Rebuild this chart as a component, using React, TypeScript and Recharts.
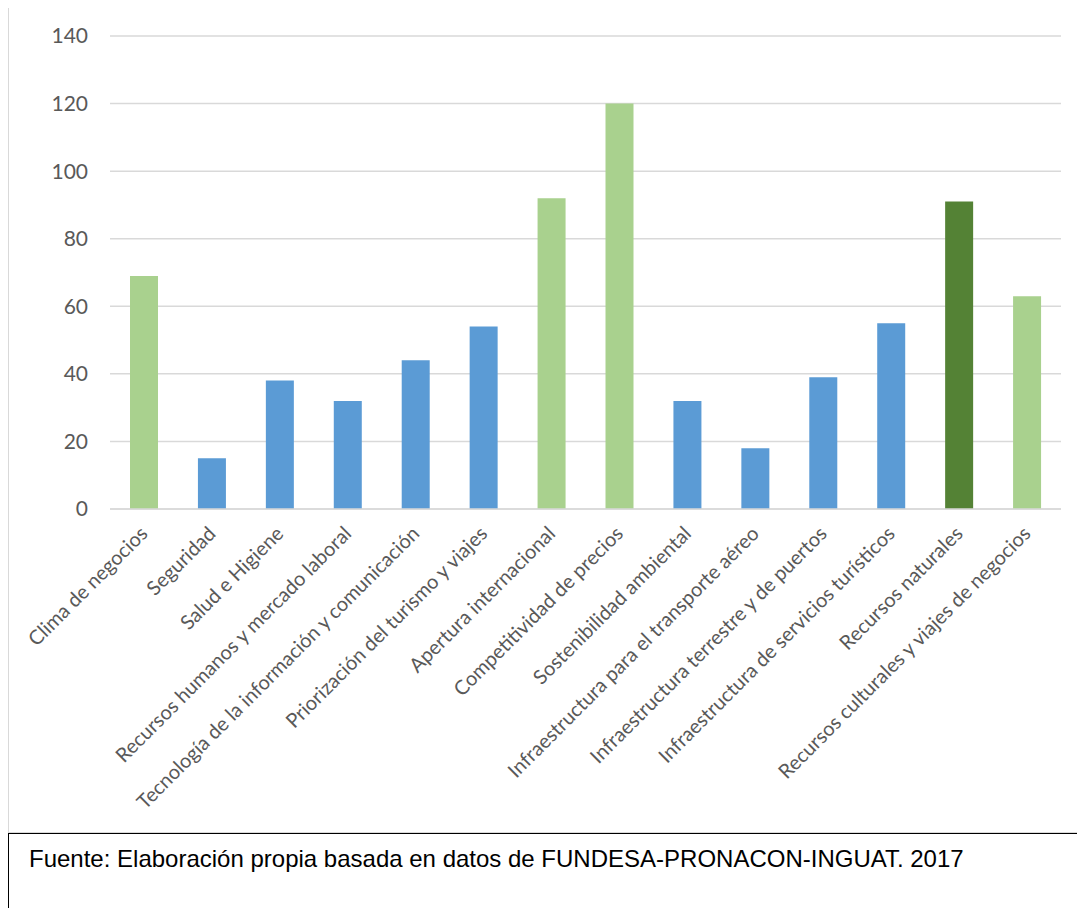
import React from 'react';
import { BarChart, Bar, XAxis, YAxis, CartesianGrid, Cell } from 'recharts';

const categories = [
    'Clima de negocios',
    'Seguridad',
    'Salud e Higiene',
    'Recursos humanos y mercado laboral',
    'Tecnología de la información y comunicación',
    'Priorización del turismo y viajes',
    'Apertura internacional',
    'Competitividad de precios',
    'Sostenibilidad ambiental',
    'Infraestructura para el transporte aéreo',
    'Infraestructura terrestre y de puertos',
    'Infraestructura de servicios turísticos',
    'Recursos naturales',
    'Recursos culturales y viajes de negocios',
];

const values = [69, 15, 38, 32, 44, 54, 92, 120, 32, 18, 39, 55, 91, 63];

const yTicks = [0, 20, 40, 60, 80, 100, 120, 140];

// light green / blue / dark green like the original
const LIGHT = '#A9D18E';
const BLUE = '#5B9BD5';
const DARK = '#548235';
const barColors = [LIGHT, BLUE, BLUE, BLUE, BLUE, BLUE, LIGHT, LIGHT, BLUE, BLUE, BLUE, BLUE, DARK, LIGHT];

const data = categories.map((name, i) => ({ name, value: values[i] }));

const FONT = 'Lato, "Open Sans", sans-serif';

function CategoryTick(props: any) {
    const { x, y, payload } = props;
    return (
        <g transform={`translate(${x},${y})`}>
            <text
                transform="rotate(-45)"
                textAnchor="end"
                dy="0.35em"
                fill="#595959"
                fontSize={20}
                fontFamily={FONT}
            >
                {payload.value}
            </text>
        </g>
    );
}

export default function App() {
    return (
        <div style={{ width: 1077, height: 901, overflow: 'hidden', position: 'relative', marginTop: -1 }}>
            <div style={{ position: 'absolute', left: 0, top: 0, width: 1090, height: 824, border: '1px solid #d9d9d9', background: '#fff' }}>
                <BarChart
                    width={1088}
                    height={824}
                    data={data}
                    margin={{ top: 28, right: 36, left: 0, bottom: 0 }}
                >
                    <CartesianGrid vertical={false} stroke="#d9d9d9" strokeWidth={1.5} />
                    <XAxis
                        dataKey="name"
                        interval={0}
                        height={323}
                        axisLine={{ stroke: '#d9d9d9', strokeWidth: 1.5 }}
                        tickLine={false}
                        tick={<CategoryTick />}
                        tickSize={8}
                        tickMargin={13}
                    />
                    <YAxis
                        width={101}
                        domain={[0, 140]}
                        ticks={yTicks}
                        axisLine={false}
                        tickLine={false}
                        tickSize={8}
                        tickMargin={14}
                        tick={{ fill: '#595959', fontSize: 21, fontFamily: FONT }}
                    />
                    <Bar dataKey="value" barSize={28} isAnimationActive={false}>
                        {data.map((entry, index) => (
                            <Cell key={`cell-${index}`} fill={barColors[index]} />
                        ))}
                    </Bar>
                </BarChart>
            </div>
            <div style={{ position: 'absolute', left: 0, top: 826, width: 1090, height: 100, border: '1px solid #000', background: '#fff' }}>
                <div style={{ position: 'absolute', left: 20, top: 11, fontFamily: 'Arial, "Liberation Sans", sans-serif', fontSize: 24, lineHeight: 'normal', color: '#000', whiteSpace: 'nowrap' }}>
                    Fuente: Elaboración propia basada en datos de FUNDESA-PRONACON-INGUAT. 2017
                </div>
            </div>
        </div>
    );
}
